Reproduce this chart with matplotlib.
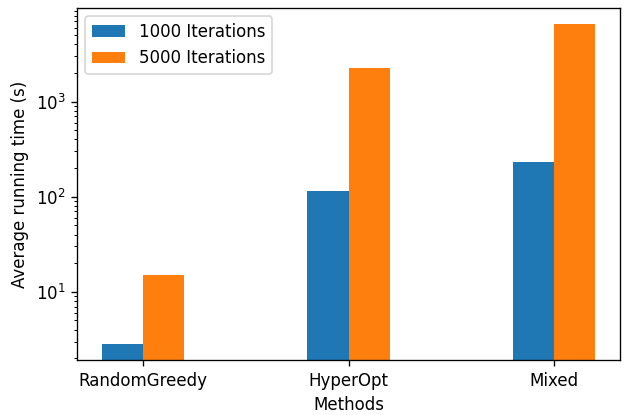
import numpy as np
import matplotlib
matplotlib.use("Agg")
import matplotlib.pyplot as plt

methods = ["RandomGreedy", "HyperOpt", "Mixed"]
time_1000 = [2.83, 116, 234]
time_5000 = [15.1, 2280, 6550]

x = np.arange(len(methods))
width = 0.2

fig, ax = plt.subplots(figsize=(630 / 120, 415 / 120), dpi=120)
ax.bar(x - width, time_1000, width, align="edge", label="1000 Iterations")
ax.bar(x, time_5000, width, align="edge", label="5000 Iterations")
ax.set_yscale("log")
ax.set_xticks(x)
ax.set_xticklabels(methods)
ax.set_xlabel("Methods")
ax.set_ylabel("Average running time (s)")
ax.legend(loc="upper left")

fig.subplots_adjust(left=77 / 630, right=620 / 630, top=1 - 8 / 415, bottom=1 - 360 / 415)
fig.savefig("out.png", dpi=120)
